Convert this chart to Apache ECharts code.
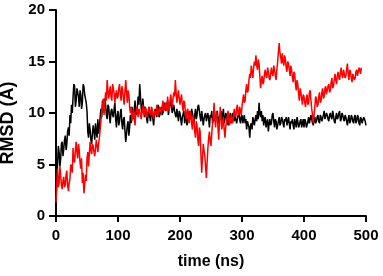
<!DOCTYPE html>
<html>
<head>
<meta charset="utf-8">
<script src="https://cdn.jsdelivr.net/npm/echarts@6/dist/echarts.min.js"></script>
<style>html,body{margin:0;padding:0;background:#fff;}#c{width:383px;height:276px;}</style>
</head>
<body>
<div id="c"></div>
<script>
// sampling interval of both trajectories (ns)
const timeStepNs = 1.25;
const xTicks = [0, 100, 200, 300, 400, 500];
const yTicks = [0, 5, 10, 15, 20];

// black trajectory RMSD (Å), t = 0 .. 500 ns (one row = 50 ns)
const rmsdBlack = [
  1.5,3.2,5.0,6.8,6.2,4.8,5.5,7.0,7.2,5.8,6.5,7.4,7.8,6.4,7.0,8.2,8.6,7.8,9.8,9.0,10.8,10.0,11.5,12.8,12.6,10.6,11.2,12.4,12.0,11.6,10.6,12.2,11.8,10.4,11.0,12.8,12.6,11.8,11.4,11.0,
  10.2,8.2,7.6,9.0,8.4,7.4,7.0,8.0,8.8,8.2,7.4,9.0,8.2,7.6,9.4,8.0,8.6,9.6,10.4,9.6,11.2,10.8,10.0,11.4,10.8,9.8,9.4,10.8,10.6,9.6,9.0,10.2,10.4,9.8,9.6,10.4,11.0,9.4,8.6,9.8,
  10.2,8.8,9.2,10.0,10.4,9.0,8.4,9.4,9.6,8.2,7.2,8.0,8.8,9.2,7.8,8.6,9.8,9.0,10.6,10.0,9.4,10.4,11.2,9.8,10.0,10.6,11.6,10.8,12.8,11.6,10.4,10.0,11.4,10.6,9.6,10.6,10.2,9.4,9.0,10.0,
  10.6,9.6,9.2,10.2,10.0,9.4,8.8,9.8,10.4,10.0,9.6,10.4,10.8,9.6,9.8,10.2,10.6,9.8,10.0,10.6,11.0,10.4,10.2,10.8,11.2,9.8,10.4,10.8,11.4,10.6,10.0,10.4,10.8,10.2,9.8,9.6,10.4,9.8,9.2,10.2,
  10.0,9.4,8.8,9.6,9.6,10.2,9.0,9.6,9.8,8.8,9.2,9.8,10.2,9.8,9.4,10.4,10.0,9.6,9.0,9.8,10.4,9.4,9.8,10.6,10.8,10.2,9.6,9.2,10.2,9.6,8.8,9.4,9.8,10.0,9.2,9.6,10.0,9.4,8.6,9.8,
  9.6,10.2,9.0,9.4,10.0,9.2,9.4,9.8,10.2,9.6,9.0,9.6,9.8,10.2,9.2,9.8,10.4,9.0,9.4,10.0,9.8,9.2,8.8,9.4,9.6,10.0,9.0,9.6,10.0,9.4,9.2,9.8,9.8,9.0,9.4,9.8,10.2,9.4,9.0,9.6,
  9.8,9.0,9.4,9.8,9.0,9.4,8.4,9.2,9.2,8.6,7.6,8.8,9.0,8.4,9.6,9.2,8.8,9.4,9.8,9.2,10.2,9.4,11.0,10.0,9.6,10.2,9.2,9.8,8.8,9.4,9.6,8.6,9.0,9.4,8.2,9.0,9.4,8.8,9.0,9.8,
  10.0,9.2,8.6,9.4,9.2,8.4,8.8,9.2,9.6,8.8,9.0,9.6,9.4,9.0,8.6,9.4,9.2,9.6,8.8,9.2,9.6,9.0,8.4,9.2,9.0,9.4,8.8,8.4,9.4,9.0,8.6,9.6,9.2,8.6,8.8,9.2,9.4,8.6,9.0,9.4,
  8.6,9.4,9.2,8.6,8.8,9.2,9.6,9.0,9.0,9.8,9.4,9.0,8.8,9.4,9.6,9.0,9.2,9.6,9.8,9.2,9.0,9.8,9.6,9.2,9.2,9.8,10.2,9.4,9.4,10.0,9.8,9.4,9.2,9.8,10.0,9.6,9.4,10.2,9.8,9.2,
  9.0,9.6,10.0,9.4,9.6,10.0,10.2,9.2,9.4,10.0,9.8,9.4,9.2,9.8,9.6,9.2,8.8,9.4,9.8,9.0,9.2,9.8,9.6,9.2,9.0,9.6,9.8,9.0,9.2,9.8,9.6,9.0,8.8,9.6,9.4,9.0,9.0,9.6,9.6,9.2,
  8.8
];

// red trajectory RMSD (Å), t = 0 .. 492.5 ns (one row = 50 ns)
const rmsdRed = [
  1.3,3.0,4.6,2.8,3.2,4.8,4.0,3.0,2.6,3.4,3.8,2.8,3.0,4.0,4.4,3.0,2.4,3.2,3.6,5.0,4.8,4.2,6.6,5.4,5.2,6.4,7.2,6.2,5.6,7.0,6.4,5.2,4.6,5.6,3.2,4.2,2.2,3.0,4.0,3.4,
  5.6,6.2,4.8,6.0,7.2,6.4,6.0,7.0,6.8,6.2,5.8,6.6,7.4,6.8,6.2,7.0,7.6,8.4,9.2,10.2,10.6,11.4,9.8,11.0,12.0,11.2,13.2,12.2,11.4,12.0,12.6,11.6,11.2,12.8,12.4,11.8,11.0,11.8,12.2,11.4,
  11.6,12.4,12.8,11.8,11.2,12.6,12.2,11.4,10.8,12.2,13.2,12.0,11.0,12.2,11.8,10.6,10.0,10.6,9.2,9.8,10.4,9.6,8.8,10.0,10.6,10.2,9.6,10.4,10.2,9.8,9.4,10.2,10.8,10.0,9.8,10.6,10.4,9.6,9.6,10.2,
  10.6,10.0,9.8,10.6,10.4,9.8,9.4,10.2,10.2,9.8,10.8,10.0,9.8,10.4,10.6,10.2,10.0,10.6,11.2,10.2,10.4,11.0,10.8,10.2,11.6,10.8,10.2,11.0,11.8,11.2,10.6,11.4,12.0,11.6,13.2,12.0,11.0,11.6,12.2,11.4,
  10.8,11.4,11.8,10.8,10.2,11.2,11.0,10.0,9.4,10.2,10.4,9.4,9.0,10.2,9.8,9.0,8.4,9.8,9.4,8.2,7.6,9.2,8.8,7.4,6.8,8.6,8.2,6.0,4.2,5.6,7.0,6.4,5.8,4.8,3.7,5.2,6.6,7.6,8.2,7.2,
  6.8,8.0,9.0,9.6,11.0,9.4,8.6,10.2,9.8,8.6,7.4,9.2,10.6,9.4,8.4,9.0,9.6,8.4,7.6,8.6,9.2,9.6,10.2,9.4,8.8,9.2,9.8,9.4,9.0,9.8,10.4,9.8,9.6,10.4,10.8,10.0,9.8,10.6,10.2,9.8,
  10.6,11.2,11.8,11.0,11.2,12.2,12.8,12.0,12.2,13.2,13.8,13.4,14.6,14.0,13.4,14.4,15.0,14.6,15.6,14.6,14.2,15.2,14.8,13.6,12.4,13.2,13.6,12.8,13.0,13.8,14.2,13.6,13.4,14.4,14.0,13.4,13.2,13.8,14.4,13.8,
  13.6,14.6,14.2,13.6,13.2,14.2,15.0,16.0,16.8,15.8,15.4,14.8,15.8,15.0,14.6,15.6,15.2,14.4,14.0,15.0,14.8,14.2,13.6,14.6,14.2,13.4,13.0,14.0,13.8,12.8,12.2,13.2,12.8,11.8,11.2,12.4,12.0,11.4,10.8,11.8,
  11.6,11.0,10.6,11.4,11.8,10.8,11.0,12.0,12.2,11.2,10.4,9.8,9.0,9.8,10.6,11.6,11.4,10.6,10.8,11.6,12.0,11.0,11.2,12.0,12.4,11.4,11.6,12.4,12.6,11.8,11.8,12.6,12.8,12.0,12.2,13.0,13.4,12.4,12.6,13.2,
  13.8,13.2,12.8,13.6,14.0,13.4,13.2,14.0,14.4,13.6,13.4,14.2,14.2,13.4,13.6,14.2,14.8,13.8,13.2,14.2,14.0,13.4,13.0,13.8,13.8,13.2,13.4,14.0,14.2,13.6,13.6,14.4,14.2,13.8,14.4
];

const toPairs = vals => vals.map((v, i) => [i * timeStepNs, v]);

const chart = echarts.init(document.getElementById('c'), null, {renderer: 'canvas'});
const axisFont = {fontFamily: 'Liberation Sans, Arial, sans-serif', fontWeight: 'bold', color: '#000'};

chart.setOption({
  animation: false,
  backgroundColor: '#fff',
  grid: {left: 56, right: 17, top: 10, bottom: 60, containLabel: false, outerBoundsMode: 'none'},
  xAxis: {
    type: 'value',
    min: xTicks[0], max: xTicks[xTicks.length - 1], interval: xTicks[1] - xTicks[0],
    name: 'time (ns)', nameLocation: 'middle', nameGap: 38,
    nameTextStyle: Object.assign({fontSize: 16}, axisFont),
    axisLine: {show: true, lineStyle: {color: '#000', width: 2}},
    axisTick: {show: true, length: 6, lineStyle: {color: '#000', width: 2}},
    axisLabel: Object.assign({fontSize: 15, margin: 12}, axisFont),
    splitLine: {show: false}
  },
  yAxis: {
    type: 'value',
    min: yTicks[0], max: yTicks[yTicks.length - 1], interval: yTicks[1] - yTicks[0],
    name: 'RMSD (Å)', nameLocation: 'middle', nameGap: 32, nameRotate: 90,
    nameTextStyle: Object.assign({fontSize: 18, padding: [0, 20, 0, 0]}, axisFont),
    axisLine: {show: true, lineStyle: {color: '#000', width: 2}},
    axisTick: {show: true, length: 7, lineStyle: {color: '#000', width: 2}},
    axisLabel: Object.assign({fontSize: 15, margin: 11}, axisFont),
    splitLine: {show: false}
  },
  series: [
    {
      name: 'black', type: 'line', data: toPairs(rmsdBlack), showSymbol: false,
      lineStyle: {color: '#000', width: 1.5}, itemStyle: {color: '#000'}, z: 2
    },
    {
      name: 'red', type: 'line', data: toPairs(rmsdRed), showSymbol: false,
      lineStyle: {color: '#ff0000', width: 1.5}, itemStyle: {color: '#ff0000'}, z: 3
    }
  ]
});
</script>
</body>
</html>
